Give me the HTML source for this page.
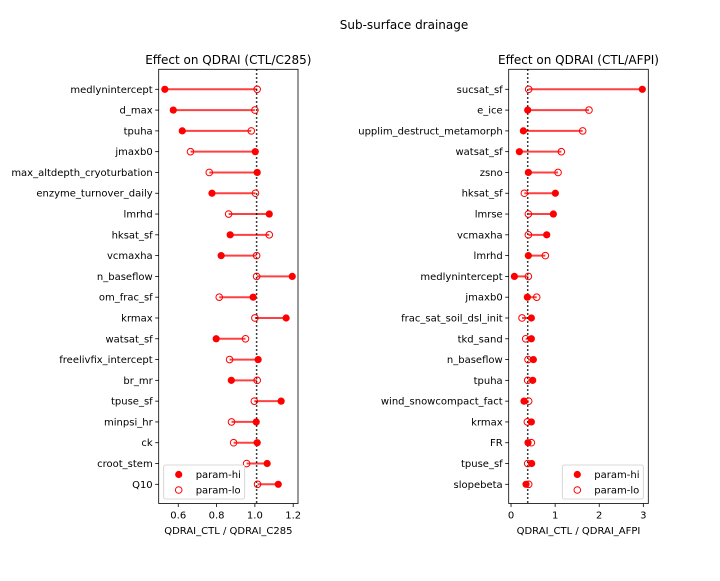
<!DOCTYPE html>
<html><head><meta charset="utf-8"><style>
body{margin:0;background:#fff}
svg{font-family:"DejaVu Sans","Liberation Sans",sans-serif}
</style></head><body>
<svg id="s" width="720" height="576" xmlns="http://www.w3.org/2000/svg">
<rect width="720" height="576" fill="#fff"/>
<text x="404" y="29" font-size="12" text-anchor="middle">Sub-surface drainage</text>
</svg>
<script>
const leftLabels=["medlynintercept","d_max","tpuha","jmaxb0","max_altdepth_cryoturbation","enzyme_turnover_daily","lmrhd","hksat_sf","vcmaxha","n_baseflow","om_frac_sf","krmax","watsat_sf","freelivfix_intercept","br_mr","tpuse_sf","minpsi_hr","ck","croot_stem","Q10"];
const leftHi=[0.530,0.574,0.621,1.002,1.012,0.776,1.075,0.871,0.824,1.195,0.991,1.163,0.798,1.017,0.877,1.137,1.007,1.012,1.064,1.122];
const leftLo=[1.012,1.0,0.981,0.664,0.762,1.003,0.863,1.075,1.009,1.009,0.814,1.0,0.951,0.868,1.012,0.997,0.878,0.889,0.957,1.014];
const leftCtl=1.009;
const leftTicks=[0.6,0.8,1.0,1.2];
const rightLabels=["sucsat_sf","e_ice","upplim_destruct_metamorph","watsat_sf","zsno","hksat_sf","lmrse","vcmaxha","lmrhd","medlynintercept","jmaxb0","frac_sat_soil_dsl_init","tkd_sand","n_baseflow","tpuha","wind_snowcompact_fact","krmax","FR","tpuse_sf","slopebeta"];
const rightHi=[2.977,0.378,0.28,0.189,0.393,1.005,0.96,0.809,0.393,0.076,0.37,0.461,0.461,0.506,0.491,0.295,0.461,0.385,0.468,0.34];
const rightLo=[0.40,1.768,1.625,1.141,1.066,0.302,0.393,0.393,0.778,0.393,0.582,0.249,0.332,0.385,0.378,0.40,0.37,0.461,0.378,0.40];
const rightCtl=0.378;
const rightTicks=[0,1,2,3];
const NS="http://www.w3.org/2000/svg",svg=document.getElementById('s');
function mk(t,a,p){const e=document.createElementNS(NS,t);for(const k in a)e.setAttribute(k,a[k]);(p||svg).appendChild(e);return e;}
function panel(id,x0,x1,dmin,dmax,labels,hi,lo,ctl,ticks,title,xlabel){
  const y0=69.3,y1=503.5;
  const g=mk('g',{});
  
  
  const X=v=>x0+(v-dmin)/(dmax-dmin)*(x1-x0);
  const Y=i=>89.3+i*(484.3-89.3)/(labels.length-1);
  const t=mk('text',{x:(x0+x1)/2,y:64,'font-size':12,'text-anchor':'middle'},g);t.textContent=title;
  
  labels.forEach((l,i)=>{
    const y=Y(i);
    mk('line',{x1:x0-3.5,x2:x0,y1:y,y2:y,stroke:'#000','stroke-width':0.8},g);
    const tx=mk('text',{x:x0-6,y:y+3.5,'font-size':10,'text-anchor':'end'},g);tx.textContent=l;
    
    const ln=mk('line',{x1:X(hi[i]),x2:X(lo[i]),y1:y,y2:y,stroke:'#ff0000','stroke-opacity':0.75,'stroke-width':2},g);
    
  });
  const dl=mk('line',{x1:X(ctl),x2:X(ctl),y1:y0,y2:y1,stroke:'#000','stroke-width':1.5,'stroke-dasharray':'1.5,2.5'},g);
  
  labels.forEach((l,i)=>{
    const y=Y(i);
    const a=mk('circle',{cx:X(lo[i]),cy:y,r:3.3,fill:'none',stroke:'#ff0000','stroke-width':1},g);
    
    const b=mk('circle',{cx:X(hi[i]),cy:y,r:3.6,fill:'#ff0000'},g);
    
  });
  ticks.forEach(v=>{
    const x=X(v);
    mk('line',{x1:x,x2:x,y1:y1,y2:y1+3.5,stroke:'#000','stroke-width':0.8},g);
    const tx=mk('text',{x:x,y:y1+15,'font-size':10,'text-anchor':'middle'},g);tx.textContent=(dmax-dmin<2)?v.toFixed(1):String(v);
    
  });
  mk('rect',{x:x0,y:y0,width:x1-x0,height:y1-y0,fill:'none',stroke:'#000','stroke-width':0.8},g);
  const xl=mk('text',{x:(x0+x1)/2,y:534,'font-size':10,'text-anchor':'middle'},g);xl.textContent=xlabel;
  
  // legend
  const lx=x0+(id==='left'?5:(x1-x0)-86),ly=465;
  const lg=mk('g',{},g);
  
  mk('rect',{x:lx,y:ly,width:81,height:34,rx:2,fill:'#fff','fill-opacity':0.8,stroke:'#ccc','stroke-width':0.8},lg);
  mk('circle',{cx:lx+15,cy:ly+9.5,r:3.6,fill:'#ff0000'},lg);
  mk('circle',{cx:lx+15,cy:ly+25,r:3.3,fill:'none',stroke:'#ff0000'},lg);
  const t1=mk('text',{x:lx+32,y:ly+13,'font-size':10},lg);t1.textContent='param-hi';
  
  const t2=mk('text',{x:lx+32,y:ly+28.5,'font-size':10},lg);t2.textContent='param-lo';
  
}
panel('left',158.7,298,0.498,1.225,leftLabels,leftHi,leftLo,leftCtl,leftTicks,'Effect on QDRAI (CTL/C285)','QDRAI_CTL / QDRAI_C285');
panel('right',508.7,648.3,-0.053,3.113,rightLabels,rightHi,rightLo,rightCtl,rightTicks,'Effect on QDRAI (CTL/AFPI)','QDRAI_CTL / QDRAI_AFPI');
</script>
</body></html>
